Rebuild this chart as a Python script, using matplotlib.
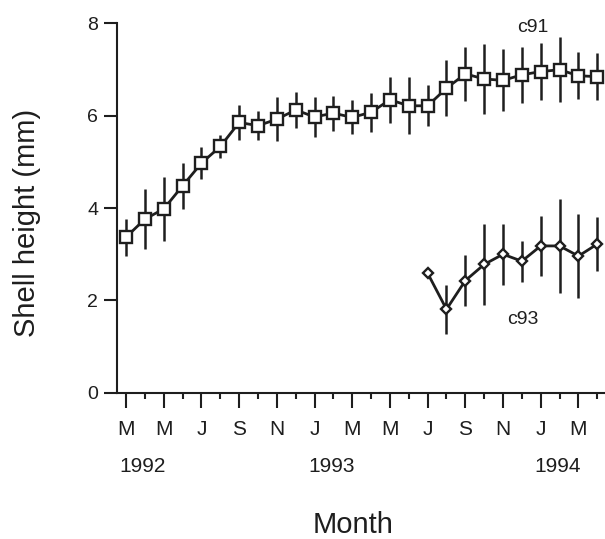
import numpy as np
import matplotlib
matplotlib.use("Agg")
import matplotlib.pyplot as plt

plt.rcParams["font.family"] = ["Liberation Sans", "DejaVu Sans"]

# month index 0 = March 1992
month_labels = ["M", "M", "J", "S", "N", "J", "M", "M", "J", "S", "N", "J", "M"]
years = ["1992", "1993", "1994"]
year_pos = [0.9, 10.9, 22.9]

c91_month = list(range(26))
c91_mean = [3.37, 3.76, 3.98, 4.48, 4.97, 5.33, 5.85, 5.78, 5.92, 6.12, 5.97, 6.05, 5.96,
            6.07, 6.34, 6.21, 6.21, 6.59, 6.90, 6.79, 6.76, 6.88, 6.95, 6.99, 6.86, 6.84]
c91_err = [0.40, 0.65, 0.70, 0.50, 0.35, 0.25, 0.38, 0.32, 0.48, 0.38, 0.43, 0.38, 0.37,
           0.42, 0.50, 0.62, 0.44, 0.60, 0.58, 0.75, 0.67, 0.60, 0.61, 0.70, 0.51, 0.51]

c93_month = list(range(16, 26))
c93_mean = [2.59, 1.81, 2.43, 2.78, 3.00, 2.85, 3.18, 3.18, 2.96, 3.22]
c93_err = [0.0, 0.53, 0.55, 0.88, 0.66, 0.44, 0.64, 1.02, 0.91, 0.58]

ink = "#1e1e1e"

fig = plt.figure(figsize=(6.05, 5.39), dpi=100)
ax = fig.add_axes([0.1934, 0.2709, 0.8066, 0.6864])

ax.errorbar(c91_month, c91_mean, yerr=c91_err, fmt="-s", color=ink, ecolor=ink,
            elinewidth=1.8, capsize=0, lw=2.0, ms=8.5, mfc="white", mec=ink,
            mew=1.7, clip_on=False, zorder=3)
ax.errorbar(c93_month, c93_mean, yerr=c93_err, fmt="-D", color=ink, ecolor=ink,
            elinewidth=1.8, capsize=0, lw=2.0, ms=5.5, mfc="white", mec=ink,
            mew=1.7, clip_on=False, zorder=3)

ax.set_xlim(-0.48, 25.41)
ax.set_ylim(0, 8)

ax.spines["top"].set_visible(False)
ax.spines["right"].set_visible(False)
for s in ("left", "bottom"):
    ax.spines[s].set_linewidth(1.5)
    ax.spines[s].set_color(ink)

ax.set_yticks([0, 2, 4, 6, 8])
ax.set_xticks(np.arange(0, 26, 2))
ax.set_xticks(np.arange(1, 26, 2), minor=True)
ax.set_xticklabels(month_labels)
ax.tick_params(axis="y", direction="out", length=9.5, width=1.5, color=ink,
               labelsize=14, pad=4, labelcolor=ink)
ax.tick_params(axis="x", which="major", direction="out", length=10.5, width=1.5,
               color=ink, labelsize=15, pad=9, labelcolor=ink)
ax.tick_params(axis="x", which="minor", direction="out", length=4.5, width=1.5,
               color=ink)

for yr, xp in zip(years, year_pos):
    ax.text(xp, -0.2, yr, transform=ax.get_xaxis_transform(), ha="center",
            va="center", fontsize=15, color=ink)

ax.text(21.6, 7.9, "c91", ha="center", va="center", fontsize=14, color=ink)
ax.text(21.05, 1.58, "c93", ha="center", va="center", fontsize=14, color=ink)

fig.text(27 / 605, 1 - 223 / 539, "Shell height (mm)", rotation=90, ha="center",
         va="center", fontsize=21, color=ink)
fig.text(353 / 605, 1 - 525 / 539, "Month", ha="center", va="center",
         fontsize=21, color=ink)

fig.savefig("out.png", dpi=100)
